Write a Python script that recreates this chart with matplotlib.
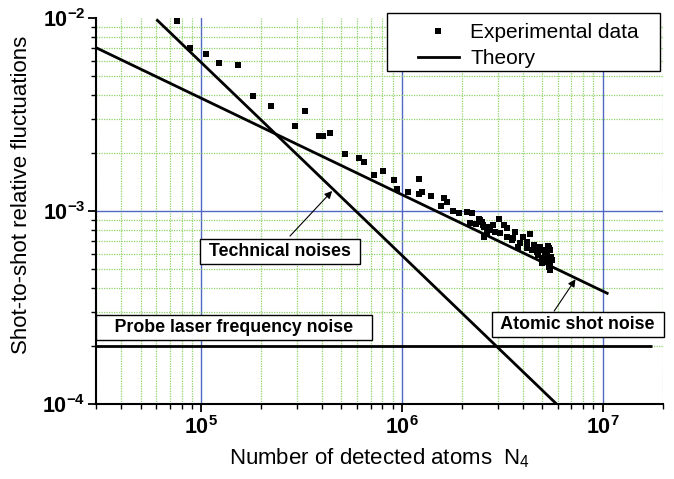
import matplotlib
matplotlib.use("Agg")
import matplotlib.pyplot as plt
import numpy as np
from matplotlib.lines import Line2D
from matplotlib.patches import Rectangle
from matplotlib.ticker import LogLocator, NullFormatter

plt.rcParams['font.family'] = ['Liberation Sans', 'DejaVu Sans']
plt.rcParams['mathtext.fontset'] = 'custom'
plt.rcParams['mathtext.rm'] = 'Liberation Sans'
plt.rcParams['mathtext.bf'] = 'Liberation Sans:bold'
plt.rcParams['mathtext.default'] = 'regular'

# ---------------- data ----------------
exp_N = [7.62e4, 8.81e4, 1.055e5, 1.234e5, 1.523e5, 1.823e5, 2.233e5, 2.94e5, 3.30e5,
         3.88e5, 4.04e5, 4.41e5, 5.24e5, 6.13e5, 6.49e5, 7.30e5, 8.04e5, 9.19e5, 9.44e5,
         1.079e6, 1.219e6, 1.219e6, 1.267e6, 1.395e6, 1.564e6, 1.619e6, 1.681e6, 1.807e6,
         1.930e6, 2.123e6, 2.233e6, 2.19e6, 2.345e6, 2.437e6, 2.52e6, 2.58e6, 2.67e6, 2.58e6,
         2.72e6, 2.455e6, 2.55e6, 2.65e6, 2.75e6, 2.86e6, 2.92e6, 3.06e6, 3.09e6, 3.24e6,
         3.34e6, 3.34e6, 3.53e6, 3.60e6, 3.67e6, 3.81e6, 3.88e6, 4.01e6, 4.20e6, 4.20e6,
         4.36e6, 4.44e6, 4.53e6, 4.53e6, 4.71e6, 4.79e6, 4.89e6, 4.98e6, 5.08e6, 5.18e6,
         5.28e6, 5.28e6, 5.37e6, 5.42e6, 5.48e6, 5.48e6, 5.59e6, 5.43e6, 5.0e6, 5.55e6,
         5.3e6, 5.1e6, 5.45e6]
exp_fluct = [9.61e-3, 6.99e-3, 6.51e-3, 5.84e-3, 5.70e-3, 3.93e-3, 3.50e-3, 2.76e-3, 3.30e-3,
             2.45e-3, 2.45e-3, 2.53e-3, 1.97e-3, 1.876e-3, 1.79e-3, 1.536e-3, 1.61e-3, 1.443e-3, 1.295e-3,
             1.25e-3, 1.465e-3, 1.225e-3, 1.254e-3, 1.197e-3, 1.062e-3, 1.168e-3, 1.109e-3, 9.96e-4,
             9.76e-4, 9.85e-4, 9.73e-4, 8.63e-4, 8.53e-4, 9.09e-4, 8.80e-4, 8.29e-4, 7.60e-4, 7.36e-4,
             8.23e-4, 8.98e-4, 8.46e-4, 8.13e-4, 7.97e-4, 8.46e-4, 7.81e-4, 9.06e-4, 7.66e-4, 8.46e-4,
             8.13e-4, 7.36e-4, 7.08e-4, 7.22e-4, 7.81e-4, 6.53e-4, 6.81e-4, 7.36e-4, 6.93e-4, 6.41e-4,
             7.57e-4, 6.28e-4, 6.67e-4, 6.28e-4, 6.15e-4, 5.92e-4, 6.53e-4, 5.69e-4, 6.28e-4, 6.04e-4,
             5.80e-4, 5.46e-4, 6.59e-4, 5.14e-4, 6.28e-4, 4.94e-4, 5.57e-4, 6.45e-4, 5.4e-4, 5.8e-4,
             6.1e-4, 5.6e-4, 5.3e-4]

# theory curves (endpoints)
shot_N = [3.0e4, 1.07e7]
shot_y = [7.02e-3, 3.72e-4]
tech_N = [6.0e4, 5.9e6]
tech_y = [9.83e-3, 1.0e-4]
probe_N = [3.0e4, 1.77e7]
probe_y = [2.0e-4, 2.0e-4]

xticks = [1e5, 1e6, 1e7]
xticklabels = [r'$\mathbf{10^{5}}$', r'$\mathbf{10^{6}}$', r'$\mathbf{10^{7}}$']
yticks = [1e-4, 1e-3, 1e-2]
yticklabels = [r'$\mathbf{10^{-4}}$', r'$\mathbf{10^{-3}}$', r'$\mathbf{10^{-2}}$']

# annotations: (text, box centre, arrow head, arrow tail)
tech_label = "Technical noises"
tech_label_pos = (2.48e5, 6.18e-4)
tech_arrow_head = (4.50e5, 1.27e-3)
tech_arrow_tail = (2.776e5, 7.42e-4)

shot_label = "Atomic shot noise"
shot_label_pos = (7.55e6, 2.59e-4)
shot_arrow_head = (7.33e6, 4.43e-4)
shot_arrow_tail = (5.74e6, 3.03e-4)

probe_label = "Probe laser frequency noise"
probe_label_pos = (1.456e5, 2.48e-4)

# ---------------- figure ----------------
W, H = 674, 479
fig = plt.figure(figsize=(W / 100, H / 100), dpi=100)
ax = fig.add_axes([96 / W, 1 - 404 / H, (663 - 96) / W, (404 - 18) / H])
ax.set_xscale('log')
ax.set_yscale('log')
ax.set_xlim(3e4, 2e7)
ax.set_ylim(1e-4, 1e-2)

ax.spines['top'].set_visible(False)
ax.spines['right'].set_visible(False)
for s in ('left', 'bottom'):
    ax.spines[s].set_linewidth(1.5)

ax.xaxis.set_minor_locator(LogLocator(base=10, subs=np.arange(2, 10), numticks=20))
ax.yaxis.set_minor_locator(LogLocator(base=10, subs=np.arange(2, 10), numticks=20))
ax.xaxis.set_minor_formatter(NullFormatter())
ax.yaxis.set_minor_formatter(NullFormatter())
ax.set_xticks(xticks, labels=xticklabels)
ax.set_yticks(yticks, labels=yticklabels)
ax.tick_params(which='major', length=6, width=1.3, labelsize=15.5, direction='out')
ax.tick_params(which='minor', length=3.5, width=1.0, direction='out')
ax.tick_params(axis='y', which='major', pad=1.5)
ax.tick_params(axis='x', which='major', pad=3)

ax.grid(which='major', color='#5068c4', linewidth=1.0, linestyle='-')
ax.grid(which='minor', color='#8fd46a', linewidth=0.9, linestyle=(0, (1.0, 1.0)))
ax.set_axisbelow(True)
for t in ax.yaxis.get_major_ticks():
    if np.isclose(t.get_loc(), 1e-2):
        t.gridline.set_visible(False)

ax.set_xlabel(r'Number of detected atoms  N$_4$', fontsize=16, labelpad=5)
ax.set_ylabel('Shot-to-shot relative fluctuations', fontsize=16)
ax.yaxis.set_label_coords(-0.113, 0.541)

# theory lines
ax.plot(shot_N, shot_y, color='black', lw=2.0, solid_capstyle='butt')
ax.plot(tech_N, tech_y, color='black', lw=2.0, solid_capstyle='butt')
ax.plot(probe_N, probe_y, color='black', lw=2.0, solid_capstyle='butt', clip_on=False)

# experimental data
ax.plot(exp_N, exp_fluct, linestyle='none', marker='s', markersize=4.2,
        color='black', markeredgewidth=0)

# annotations
aprops = dict(arrowstyle='-|>', color='black', lw=0.8, mutation_scale=11, shrinkA=0, shrinkB=0)
ax.annotate('', xy=tech_arrow_head, xytext=tech_arrow_tail, arrowprops=aprops)
ax.annotate('', xy=shot_arrow_head, xytext=shot_arrow_tail, arrowprops=aprops)

bprops = dict(boxstyle='square,pad=0.22', facecolor='white', edgecolor='black', linewidth=1.0)
ax.text(*tech_label_pos, ' ' + tech_label + ' ', fontsize=12.8, fontweight='bold',
        ha='center', va='center', bbox=bprops, zorder=5)
ax.text(*shot_label_pos, ' ' + shot_label + ' ', fontsize=12.8, fontweight='bold',
        ha='center', va='center', bbox=bprops, zorder=5, clip_on=False)
ax.text(*probe_label_pos, '   ' + probe_label + '   ', fontsize=12.8, fontweight='bold',
        ha='center', va='center', bbox=bprops, zorder=5)

# legend (frame drawn separately to get the wide left margin of the original)
ax.add_patch(Rectangle((387 / W, 1 - 71 / H), (660 - 387) / W, (71 - 12.7) / H,
                       transform=fig.transFigure, facecolor='white',
                       edgecolor='black', linewidth=1.0, zorder=7, clip_on=False))
handles = [Line2D([], [], linestyle='none', marker='s', markersize=4.2, color='black', markeredgewidth=0),
           Line2D([], [], color='black', lw=2.0)]
leg = ax.legend(handles, ['Experimental data', 'Theory'], loc='upper left',
                bbox_to_anchor=(418 / W, 1 - 23.5 / H), bbox_transform=fig.transFigure,
                frameon=False, fontsize=15, borderpad=0, borderaxespad=0,
                handlelength=1.95, handletextpad=0.55, labelspacing=0.32)
leg.set_zorder(8)

fig.savefig('out.png', dpi=100)
